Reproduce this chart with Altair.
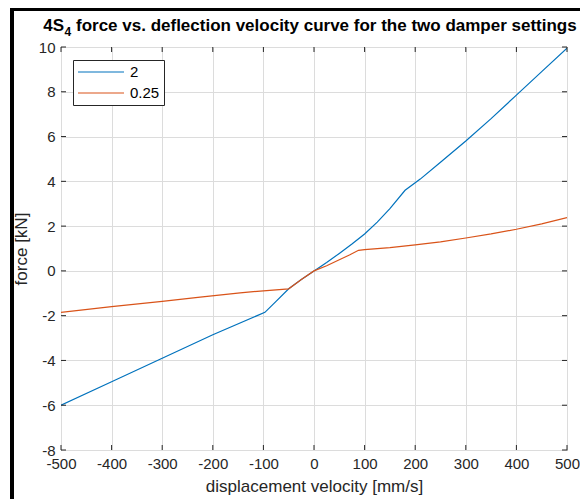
import altair as alt
import pandas as pd

# ---- data ----
vel_2 = [-500, -400, -300, -200, -97, -75, -50, -25, 0, 25, 50, 75, 100, 125, 150, 180,
         210, 250, 300, 350, 400, 450, 500]
force_2 = [-6.0, -4.95, -3.9, -2.85, -1.85, -1.36, -0.80, -0.38, 0.0, 0.37, 0.78, 1.2, 1.65,
           2.18, 2.78, 3.6, 4.1, 4.85, 5.8, 6.8, 7.85, 8.9, 9.95]

vel_025 = [-500, -400, -300, -225, -146, -100, -50, -25, 0, 25, 50, 70, 88, 100, 150, 200,
           250, 300, 350, 400, 450, 500]
force_025 = [-1.85, -1.6, -1.36, -1.17, -0.98, -0.89, -0.80, -0.38, 0.0, 0.23, 0.5, 0.71,
             0.92, 0.95, 1.04, 1.16, 1.3, 1.47, 1.65, 1.86, 2.1, 2.38]

series_names = ["2", "0.25"]
series_colors = ["#0072BD", "#D95319"]
x_ticks = [-500, -400, -300, -200, -100, 0, 100, 200, 300, 400, 500]
y_ticks = [-8, -6, -4, -2, 0, 2, 4, 6, 8, 10]
title_main = "4S"
title_sub = "4"
title_rest = "force vs. deflection velocity curve for the two damper settings"
x_title = "displacement velocity [mm/s]"
y_title = "force [kN]"

W, H = 506, 403
FONT = "Liberation Sans"
INK = "#262626"

rows = []
for i, (v, f) in enumerate(zip(vel_2, force_2)):
    rows.append({"v": v, "f": f, "s": series_names[0], "i": i})
for i, (v, f) in enumerate(zip(vel_025, force_025)):
    rows.append({"v": v, "f": f, "s": series_names[1], "i": i})
df = pd.DataFrame(rows)
xt = pd.DataFrame({"v": x_ticks})
yt = pd.DataFrame({"f": y_ticks})

xscale = alt.Scale(domain=[-500, 500], nice=False, zero=False)
yscale = alt.Scale(domain=[-8, 10], nice=False, zero=False)
xaxis = alt.Axis(values=x_ticks, grid=True, domain=False, ticks=False, tickSize=0,
                 labelPadding=6, titlePadding=7, labelOverlap=False, labelFlush=False,
                 labelExpr="datum.value + ''")
yaxis = alt.Axis(values=y_ticks, grid=True, domain=False, ticks=False, tickSize=0,
                 labelPadding=6, titlePadding=8, labelOverlap=False, labelFlush=False,
                 labelExpr="datum.value + ''")

lines = alt.Chart(df).mark_line(strokeWidth=1.2, clip=True).encode(
    x=alt.X("v:Q", scale=xscale, title=x_title, axis=xaxis),
    y=alt.Y("f:Q", scale=yscale, title=y_title, axis=yaxis),
    color=alt.Color("s:N", scale=alt.Scale(domain=series_names, range=series_colors),
                    legend=alt.Legend(title=None, orient="none", legendX=12, legendY=13)),
    order="i:Q",
)

tick_len = 5
xb = alt.Chart(xt).mark_rule(color=INK, strokeWidth=1).encode(
    x=alt.X("v:Q", scale=xscale, title=x_title, axis=xaxis),
    y=alt.value(H), y2=alt.value(H - tick_len))
xtop = alt.Chart(xt).mark_rule(color=INK, strokeWidth=1).encode(
    x=alt.X("v:Q", scale=xscale, title=x_title, axis=xaxis),
    y=alt.value(0), y2=alt.value(tick_len))
yl = alt.Chart(yt).mark_rule(color=INK, strokeWidth=1).encode(
    y=alt.Y("f:Q", scale=yscale, title=y_title, axis=yaxis),
    x=alt.value(0), x2=alt.value(tick_len))
yr = alt.Chart(yt).mark_rule(color=INK, strokeWidth=1).encode(
    y=alt.Y("f:Q", scale=yscale, title=y_title, axis=yaxis),
    x=alt.value(W), x2=alt.value(W - tick_len))

title_df = pd.DataFrame({"a": [title_main], "b": [title_sub], "c": [title_rest]})
t1 = alt.Chart(title_df).mark_text(
    font=FONT, fontSize=17, fontWeight="bold", color="#000000",
    align="right", baseline="alphabetic").encode(
    text="a:N", x=alt.value(3), y=alt.value(-16))
t2 = alt.Chart(title_df).mark_text(
    font=FONT, fontSize=12, fontWeight="bold", color="#000000",
    align="left", baseline="alphabetic").encode(
    text="b:N", x=alt.value(3.5), y=alt.value(-11))
t3 = alt.Chart(title_df).mark_text(
    font=FONT, fontSize=17, fontWeight="bold", color="#000000",
    align="left", baseline="alphabetic").encode(
    text="c:N", x=alt.value(15), y=alt.value(-16))

frame_df = pd.DataFrame({"k": [1]})
frame_left = alt.Chart(frame_df).mark_rule(color="#000000", strokeWidth=4, clip=False).encode(
    x=alt.value(-49), y=alt.value(-39), y2=alt.value(H + 60))
frame_top = alt.Chart(frame_df).mark_rule(color="#000000", strokeWidth=3, clip=False).encode(
    y=alt.value(-37.5), x=alt.value(-51), x2=alt.value(W + 40))

chart = alt.layer(lines, xb, xtop, yl, yr, t1, t2, t3, frame_left, frame_top).properties(
    width=W, height=H,
    autosize=alt.AutoSizeParams(type="none"),
    padding={"left": 53, "top": 39, "right": 13, "bottom": 49},
).configure(
    background="white",
).configure_view(
    stroke=INK, strokeWidth=1,
).configure_axis(
    labelFont=FONT, titleFont=FONT, labelFontSize=15, titleFontSize=17,
    labelColor=INK, titleColor=INK, titleFontWeight="normal",
    gridColor="#dcdcdc", gridWidth=1, gridOpacity=1,
).configure_legend(
    labelFont=FONT, labelFontSize=15, labelColor="#000000",
    symbolType="stroke", symbolSize=2116, symbolStrokeWidth=1.2,
    strokeColor=INK, fillColor="white", padding=4, rowPadding=5, clipHeight=16,
    labelOffset=5, cornerRadius=0,
)

chart.save("out.html", embed_options={"renderer": "svg", "actions": False})
